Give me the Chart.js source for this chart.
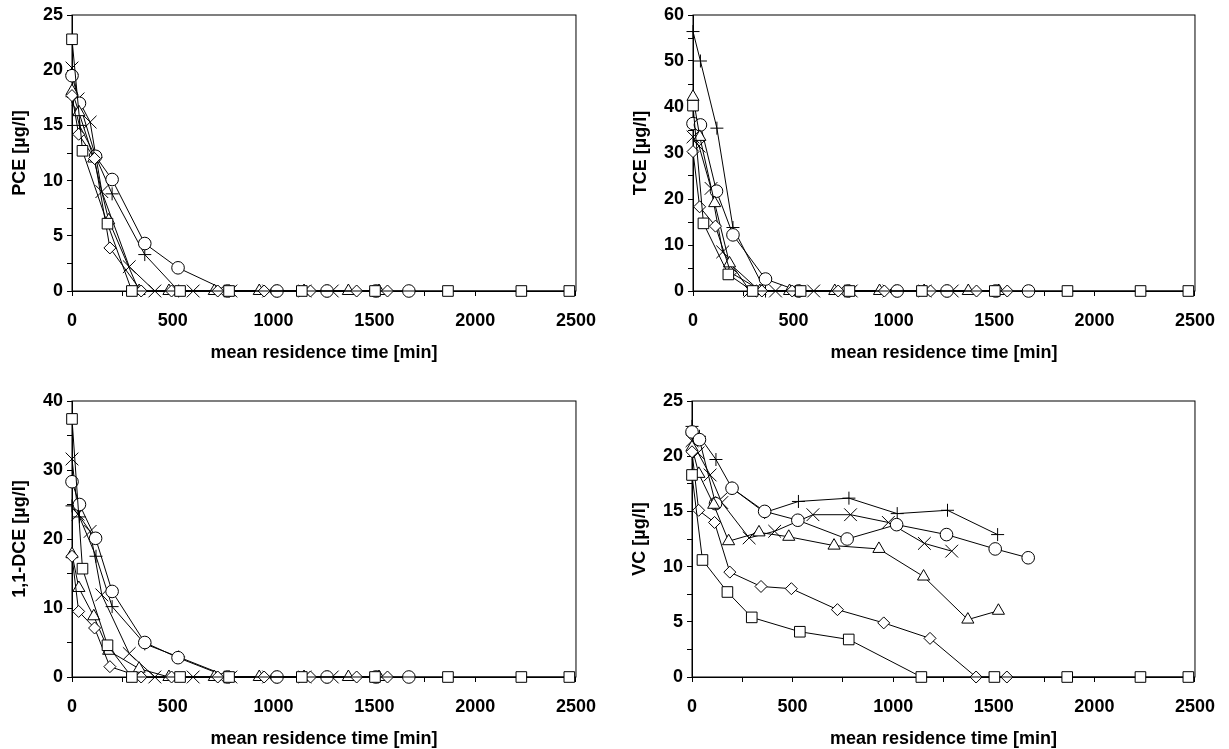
<!DOCTYPE html>
<html>
<head>
<meta charset="utf-8">
<script src="https://cdn.jsdelivr.net/npm/chart.js@4/dist/chart.umd.min.js"></script>
<style>
  html, body { margin: 0; padding: 0; background: #fff; }
  body { width: 1229px; height: 749px; position: relative; overflow: hidden; }
  canvas { position: absolute; }
</style>
</head>
<body>
<canvas id="pce" width="610" height="364" style="left:0;top:0"></canvas>
<canvas id="tce" width="608" height="364" style="left:621px;top:0"></canvas>
<canvas id="dce" width="610" height="364" style="left:0;top:386px"></canvas>
<canvas id="vc" width="609" height="364" style="left:620px;top:386px"></canvas>
<script>
// mean residence time [min] for each run (one marker per run)
const tSquare   = [0, 52, 176, 297, 536, 779, 1140, 1503, 1865, 2229, 2467];
const tDiamond  = [0, 33, 112, 188, 343, 494, 723, 953, 1183, 1412, 1565];
const tTriangle = [0, 34, 108, 182, 333, 481, 706, 929, 1151, 1371, 1523];
const tCircle   = [0, 37, 117, 199, 361, 526, 771, 1017, 1265, 1507, 1671];
const tPlus     = [0, 37, 119, 199, 361, 529, 780, 1020, 1270, 1519];
const tCross    = [0, 30, 90, 148, 284, 411, 601, 788, 976, 1155, 1291];

// PCE [µg/l]
const pceSquare   = [22.8, 12.7, 6.1, 0, 0, 0, 0, 0, 0, 0, 0];
const pceDiamond  = [17.7, 14.2, 12.0, 3.9, 0, 0, 0, 0, 0, 0, 0];
const pceTriangle = [18.1, 16.2, 12.0, 6.4, 0, 0, 0, 0, 0, 0, 0];
const pceCircle   = [19.5, 17.0, 12.2, 10.1, 4.3, 2.1, 0, 0, 0, 0, 0];
const pcePlus     = [17.6, 15.0, 12.1, 8.8, 3.3, 0, 0, 0, 0, 0];
const pceCross    = [20.2, 17.4, 15.3, 9.0, 2.2, 0, 0, 0, 0, 0, 0];

// TCE [µg/l]
const tceSquare   = [40.3, 14.7, 3.6, 0, 0, 0, 0, 0, 0, 0, 0];
const tceDiamond  = [30.3, 18.3, 14.1, 4.0, 0, 0, 0, 0, 0, 0, 0];
const tceTriangle = [42.2, 33.5, 19.1, 6.0, 0, 0, 0, 0, 0, 0, 0];
const tceCircle   = [36.4, 36.1, 21.7, 12.2, 2.6, 0, 0, 0, 0, 0, 0];
const tcePlus     = [56.4, 50.0, 35.4, 13.8, 0, 0, 0, 0, 0, 0];
const tceCross    = [33.5, 31.5, 22.3, 8.5, 0, 0, 0, 0, 0, 0, 0];

// 1,1-DCE [µg/l]
const dceSquare   = [37.4, 15.7, 4.6, 0, 0, 0, 0, 0, 0, 0, 0];
const dceDiamond  = [17.5, 9.5, 7.1, 1.5, 0, 0, 0, 0, 0, 0, 0];
const dceTriangle = [17.8, 12.9, 8.8, 3.8, 1.2, 0, 0, 0, 0, 0, 0];
const dceCircle   = [28.3, 25.0, 20.1, 12.4, 5.0, 2.8, 0, 0, 0, 0, 0];
const dcePlus     = [24.8, 23.2, 17.5, 10.2, 4.8, 2.9, 0, 0, 0, 0];
const dceCross    = [31.6, 23.6, 21.1, 11.9, 3.4, 0, 0, 0, 0, 0, 0];

// VC [µg/l]
const vcSquare   = [18.3, 10.6, 7.7, 5.4, 4.1, 3.4, 0, 0, 0, 0, 0];
const vcDiamond  = [20.4, 15.1, 14.0, 9.5, 8.2, 8.0, 6.1, 4.9, 3.5, 0, 0];
const vcTriangle = [20.8, 18.4, 15.6, 12.3, 13.1, 12.7, 11.9, 11.6, 9.1, 5.2, 6.0];
const vcCircle   = [22.2, 21.5, 15.7, 17.1, 15.0, 14.2, 12.5, 13.8, 12.9, 11.6, 10.8];
const vcPlus     = [22.7, 21.8, 19.7, 17.1, 14.9, 15.9, 16.2, 14.8, 15.1, 12.9];
const vcCross    = [21.4, 20.3, 18.3, 15.8, 12.6, 13.2, 14.7, 14.7, 14.0, 12.1, 11.4];

const xTitle = 'mean residence time [min]';
const FONT = { family: "'Liberation Sans', Arial, sans-serif", size: 18, weight: 'bold' };

const markers = [
    { t: tSquare, style: 'rect', r: 7.5 },
    { t: tDiamond, style: 'rectRot', r: 6 },
    { t: tTriangle, style: 'triangle', r: 7 },
    { t: tCircle, style: 'circle', r: 6.3 },
    { t: tPlus, style: 'cross', r: 6.5 },
    { t: tCross, style: 'crossRot', r: 9 }
];

// box round the plot area
const frame = {
    id: 'frame',
    beforeDatasetsDraw(chart) {
        const { ctx, chartArea: a } = chart;
        ctx.save();
        ctx.strokeStyle = '#000';
        ctx.lineWidth = 1;
        ctx.strokeRect(a.left, a.top, a.right - a.left, a.bottom - a.top);
        ctx.restore();
    }
};

const makeChart = (id, padRight, yTitle, yMax, yStep, yLabelStep, series) => {
    new Chart(document.getElementById(id), {
        type: 'scatter',
        data: {
            datasets: series.map((vals, i) => ({
                data: vals.map((v, k) => ({ x: markers[i].t[k], y: v })),
                showLine: true,
                borderColor: '#000',
                borderWidth: 1,
                pointStyle: markers[i].style,
                pointRadius: markers[i].r,
                pointBorderColor: '#000',
                pointBorderWidth: 1,
                pointBackgroundColor: '#fff',
                clip: false
            }))
        },
        options: {
            responsive: false,
            animation: false,
            events: [],
            layout: { padding: { top: 15, right: padRight, left: 0, bottom: 0 } },
            plugins: { legend: { display: false }, tooltip: { enabled: false } },
            scales: {
                x: {
                    type: 'linear', min: 0, max: 2500,
                    afterFit: s => { s.height = 73; },
                    grid: { drawOnChartArea: false, drawTicks: true, tickLength: 5, color: '#000' },
                    border: { display: true, color: '#000', width: 1 },
                    ticks: {
                        stepSize: 250, autoSkip: false, maxRotation: 0, padding: 14,
                        color: '#000', font: FONT,
                        callback: v => v % 500 === 0 ? v : ''
                    },
                    title: { display: true, text: xTitle, color: '#000', font: FONT, padding: { top: 0, bottom: 0 } }
                },
                y: {
                    type: 'linear', min: 0, max: yMax,
                    afterFit: s => { s.width = 72; },
                    grid: { drawOnChartArea: false, drawTicks: true, tickLength: 5, color: '#000' },
                    border: { display: true, color: '#000', width: 1 },
                    ticks: {
                        stepSize: yStep, autoSkip: false, padding: 4,
                        color: '#000', font: FONT,
                        callback: v => v % yLabelStep === 0 ? v : ''
                    },
                    title: { display: true, text: yTitle, color: '#000', font: FONT, padding: { top: 9, bottom: 0 } }
                }
            }
        },
        plugins: [frame]
    });
};

makeChart('pce', 31, 'PCE [µg/l]', 25, 2.5, 5,
    [pceSquare, pceDiamond, pceTriangle, pceCircle, pcePlus, pceCross]);
makeChart('tce', 29, 'TCE [µg/l]', 60, 5, 10,
    [tceSquare, tceDiamond, tceTriangle, tceCircle, tcePlus, tceCross]);
makeChart('dce', 31, '1,1-DCE [µg/l]', 40, 5, 10,
    [dceSquare, dceDiamond, dceTriangle, dceCircle, dcePlus, dceCross]);
makeChart('vc', 29, 'VC [µg/l]', 25, 2.5, 5,
    [vcSquare, vcDiamond, vcTriangle, vcCircle, vcPlus, vcCross]);
</script>
</body>
</html>
